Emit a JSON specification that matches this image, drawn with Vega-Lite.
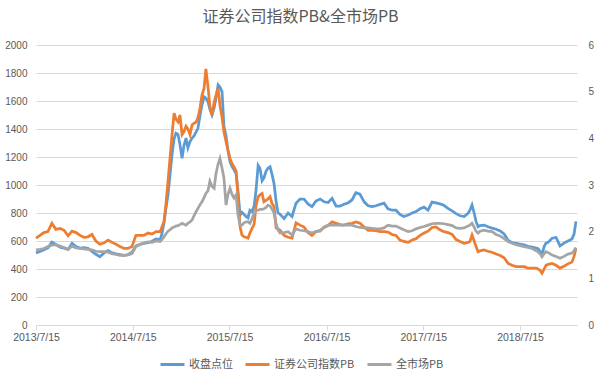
{
  "$schema": "https://vega.github.io/schema/vega-lite/v6.json",
  "width": 541,
  "height": 280,
  "autosize": {"type": "none"},
  "padding": {"left": 36, "top": 45, "right": 23, "bottom": 49},
  "background": "white",
  "title": {"text": "证券公司指数PB&全市场PB", "font": "Noto Sans CJK SC", "fontSize": 16, "fontWeight": "normal", "color": "#595959", "offset": 15, "dx": -6},
  "config": {"view": {"stroke": null}, "font": "Noto Sans CJK SC"},
  "data": {"values": [
    {"d":"2013/07/15","a":515,"b":1.86,"c":1.61},
    {"d":"2013/07/30","a":525,"b":1.92,"c":1.62},
    {"d":"2013/08/14","a":538,"b":1.98,"c":1.64},
    {"d":"2013/08/29","a":550,"b":2.0,"c":1.68},
    {"d":"2013/09/13","a":592,"b":2.18,"c":1.71},
    {"d":"2013/09/28","a":575,"b":2.05,"c":1.72},
    {"d":"2013/10/14","a":556,"b":2.07,"c":1.69},
    {"d":"2013/10/29","a":548,"b":2.03,"c":1.66},
    {"d":"2013/11/13","a":540,"b":1.91,"c":1.62},
    {"d":"2013/11/28","a":583,"b":2.01,"c":1.69},
    {"d":"2013/12/13","a":560,"b":1.98,"c":1.65},
    {"d":"2013/12/28","a":550,"b":1.92,"c":1.64},
    {"d":"2014/01/12","a":552,"b":1.88,"c":1.63},
    {"d":"2014/01/27","a":548,"b":1.89,"c":1.62},
    {"d":"2014/02/11","a":525,"b":1.94,"c":1.61},
    {"d":"2014/02/26","a":505,"b":1.8,"c":1.58},
    {"d":"2014/03/13","a":488,"b":1.73,"c":1.57},
    {"d":"2014/03/29","a":515,"b":1.76,"c":1.57},
    {"d":"2014/04/13","a":532,"b":1.82,"c":1.56},
    {"d":"2014/04/28","a":515,"b":1.77,"c":1.53},
    {"d":"2014/05/13","a":508,"b":1.73,"c":1.51},
    {"d":"2014/05/28","a":503,"b":1.68,"c":1.49},
    {"d":"2014/06/12","a":498,"b":1.64,"c":1.49},
    {"d":"2014/06/27","a":502,"b":1.64,"c":1.5},
    {"d":"2014/07/12","a":520,"b":1.68,"c":1.53},
    {"d":"2014/07/27","a":565,"b":1.92,"c":1.68},
    {"d":"2014/08/11","a":575,"b":1.92,"c":1.73},
    {"d":"2014/08/26","a":582,"b":1.92,"c":1.76},
    {"d":"2014/09/11","a":588,"b":1.97,"c":1.78},
    {"d":"2014/09/26","a":598,"b":1.95,"c":1.77},
    {"d":"2014/10/11","a":615,"b":2.0,"c":1.8},
    {"d":"2014/10/26","a":610,"b":2.0,"c":1.79},
    {"d":"2014/11/02","a":650,"b":2.1,"c":1.83},
    {"d":"2014/11/10","a":730,"b":2.22,"c":1.89},
    {"d":"2014/11/17","a":830,"b":2.58,"c":1.95},
    {"d":"2014/11/25","a":930,"b":3.08,"c":2.01},
    {"d":"2014/12/03","a":1080,"b":3.6,"c":2.04},
    {"d":"2014/12/10","a":1215,"b":4.07,"c":2.08},
    {"d":"2014/12/18","a":1330,"b":4.54,"c":2.1},
    {"d":"2014/12/25","a":1370,"b":4.41,"c":2.12},
    {"d":"2015/01/02","a":1360,"b":4.35,"c":2.13},
    {"d":"2015/01/09","a":1290,"b":4.5,"c":2.15},
    {"d":"2015/01/17","a":1190,"b":4.08,"c":2.18},
    {"d":"2015/01/24","a":1280,"b":4.14,"c":2.16},
    {"d":"2015/02/01","a":1335,"b":4.26,"c":2.14},
    {"d":"2015/02/08","a":1265,"b":4.2,"c":2.18},
    {"d":"2015/02/16","a":1310,"b":4.08,"c":2.21},
    {"d":"2015/02/24","a":1335,"b":4.29,"c":2.25},
    {"d":"2015/03/03","a":1350,"b":4.32,"c":2.34},
    {"d":"2015/03/11","a":1380,"b":4.35,"c":2.43},
    {"d":"2015/03/18","a":1405,"b":4.44,"c":2.5},
    {"d":"2015/03/26","a":1500,"b":4.65,"c":2.58},
    {"d":"2015/04/02","a":1570,"b":4.92,"c":2.64},
    {"d":"2015/04/10","a":1630,"b":5.07,"c":2.73},
    {"d":"2015/04/17","a":1620,"b":5.49,"c":2.82},
    {"d":"2015/04/25","a":1595,"b":5.1,"c":2.88},
    {"d":"2015/05/02","a":1540,"b":4.68,"c":3.08},
    {"d":"2015/05/10","a":1500,"b":4.5,"c":2.97},
    {"d":"2015/05/18","a":1550,"b":4.77,"c":2.93},
    {"d":"2015/05/25","a":1620,"b":4.92,"c":3.24},
    {"d":"2015/06/02","a":1715,"b":5.07,"c":3.45},
    {"d":"2015/06/09","a":1700,"b":4.71,"c":3.57},
    {"d":"2015/06/17","a":1665,"b":4.44,"c":3.36},
    {"d":"2015/06/24","a":1420,"b":4.14,"c":3.15},
    {"d":"2015/07/02","a":1350,"b":3.93,"c":2.57},
    {"d":"2015/07/09","a":1250,"b":3.75,"c":2.79},
    {"d":"2015/07/17","a":1165,"b":3.57,"c":2.93},
    {"d":"2015/07/25","a":1130,"b":3.45,"c":2.79},
    {"d":"2015/08/01","a":1110,"b":3.39,"c":2.72},
    {"d":"2015/08/09","a":1080,"b":3.3,"c":2.79},
    {"d":"2015/08/16","a":960,"b":2.76,"c":2.36},
    {"d":"2015/08/24","a":785,"b":2.1,"c":2.14},
    {"d":"2015/08/31","a":805,"b":1.93,"c":2.14},
    {"d":"2015/09/08","a":790,"b":1.89,"c":2.19},
    {"d":"2015/09/15","a":775,"b":1.88,"c":2.21},
    {"d":"2015/09/23","a":765,"b":1.86,"c":2.21},
    {"d":"2015/09/30","a":820,"b":1.97,"c":2.18},
    {"d":"2015/10/08","a":810,"b":2.07,"c":2.28},
    {"d":"2015/10/16","a":850,"b":2.16,"c":2.4},
    {"d":"2015/10/23","a":960,"b":2.55,"c":2.45},
    {"d":"2015/10/31","a":1140,"b":2.75,"c":2.46},
    {"d":"2015/11/07","a":1120,"b":2.79,"c":2.48},
    {"d":"2015/11/15","a":1030,"b":2.82,"c":2.48},
    {"d":"2015/11/22","a":1050,"b":2.64,"c":2.49},
    {"d":"2015/11/30","a":1100,"b":2.67,"c":2.52},
    {"d":"2015/12/07","a":1120,"b":2.7,"c":2.57},
    {"d":"2015/12/15","a":1130,"b":2.75,"c":2.55},
    {"d":"2015/12/22","a":1080,"b":2.61,"c":2.49},
    {"d":"2015/12/30","a":1010,"b":2.54,"c":2.4},
    {"d":"2016/01/07","a":880,"b":2.08,"c":2.16},
    {"d":"2016/01/14","a":800,"b":2.06,"c":2.04},
    {"d":"2016/01/22","a":790,"b":2.03,"c":1.97},
    {"d":"2016/02/06","a":760,"b":1.92,"c":1.98},
    {"d":"2016/02/21","a":800,"b":1.88,"c":2.0},
    {"d":"2016/03/07","a":775,"b":1.86,"c":1.93},
    {"d":"2016/03/22","a":870,"b":2.19,"c":2.06},
    {"d":"2016/04/06","a":900,"b":2.14,"c":2.03},
    {"d":"2016/04/21","a":900,"b":2.1,"c":2.02},
    {"d":"2016/05/06","a":865,"b":1.98,"c":2.0},
    {"d":"2016/05/21","a":845,"b":1.92,"c":1.97},
    {"d":"2016/06/05","a":885,"b":2.0,"c":2.0},
    {"d":"2016/06/21","a":900,"b":2.03,"c":2.01},
    {"d":"2016/07/06","a":880,"b":2.09,"c":2.1},
    {"d":"2016/07/21","a":875,"b":2.13,"c":2.14},
    {"d":"2016/08/05","a":905,"b":2.21,"c":2.14},
    {"d":"2016/08/20","a":850,"b":2.18,"c":2.14},
    {"d":"2016/09/04","a":850,"b":2.15,"c":2.14},
    {"d":"2016/09/19","a":862,"b":2.14,"c":2.14},
    {"d":"2016/10/04","a":872,"b":2.17,"c":2.14},
    {"d":"2016/10/19","a":893,"b":2.18,"c":2.14},
    {"d":"2016/11/03","a":945,"b":2.21,"c":2.11},
    {"d":"2016/11/18","a":935,"b":2.18,"c":2.09},
    {"d":"2016/12/04","a":880,"b":2.1,"c":2.08},
    {"d":"2016/12/19","a":852,"b":2.03,"c":2.08},
    {"d":"2017/01/03","a":845,"b":2.03,"c":2.07},
    {"d":"2017/01/18","a":852,"b":2.02,"c":2.06},
    {"d":"2017/02/02","a":862,"b":2.0,"c":2.06},
    {"d":"2017/02/17","a":870,"b":2.0,"c":2.08},
    {"d":"2017/03/04","a":830,"b":1.99,"c":2.14},
    {"d":"2017/03/19","a":820,"b":1.94,"c":2.12},
    {"d":"2017/04/03","a":820,"b":1.92,"c":2.12},
    {"d":"2017/04/18","a":790,"b":1.82,"c":2.08},
    {"d":"2017/05/03","a":775,"b":1.79,"c":2.04},
    {"d":"2017/05/19","a":785,"b":1.77,"c":2.0},
    {"d":"2017/06/03","a":800,"b":1.82,"c":2.02},
    {"d":"2017/06/18","a":810,"b":1.85,"c":2.06},
    {"d":"2017/07/03","a":830,"b":1.92,"c":2.09},
    {"d":"2017/07/18","a":842,"b":1.97,"c":2.11},
    {"d":"2017/08/02","a":821,"b":2.01,"c":2.14},
    {"d":"2017/08/17","a":878,"b":2.09,"c":2.17},
    {"d":"2017/09/01","a":872,"b":2.1,"c":2.18},
    {"d":"2017/09/16","a":865,"b":2.04,"c":2.18},
    {"d":"2017/10/01","a":855,"b":2.0,"c":2.17},
    {"d":"2017/10/16","a":833,"b":1.98,"c":2.15},
    {"d":"2017/11/01","a":815,"b":1.94,"c":2.13},
    {"d":"2017/11/16","a":795,"b":1.83,"c":2.08},
    {"d":"2017/12/01","a":780,"b":1.79,"c":2.07},
    {"d":"2017/12/16","a":775,"b":1.75,"c":2.08},
    {"d":"2017/12/31","a":798,"b":1.77,"c":2.12},
    {"d":"2018/01/07","a":820,"b":1.79,"c":2.14},
    {"d":"2018/01/15","a":858,"b":1.93,"c":2.18},
    {"d":"2018/01/23","a":800,"b":1.8,"c":2.1},
    {"d":"2018/01/30","a":740,"b":1.68,"c":2.01},
    {"d":"2018/02/07","a":702,"b":1.57,"c":1.97},
    {"d":"2018/02/14","a":710,"b":1.59,"c":2.01},
    {"d":"2018/03/01","a":714,"b":1.61,"c":2.03},
    {"d":"2018/03/16","a":702,"b":1.58,"c":2.01},
    {"d":"2018/03/31","a":692,"b":1.56,"c":2.0},
    {"d":"2018/04/16","a":684,"b":1.52,"c":1.94},
    {"d":"2018/05/01","a":672,"b":1.49,"c":1.91},
    {"d":"2018/05/16","a":650,"b":1.44,"c":1.85},
    {"d":"2018/05/31","a":605,"b":1.32,"c":1.79},
    {"d":"2018/06/15","a":588,"b":1.28,"c":1.75},
    {"d":"2018/06/30","a":583,"b":1.25,"c":1.72},
    {"d":"2018/07/15","a":578,"b":1.25,"c":1.7},
    {"d":"2018/07/30","a":572,"b":1.25,"c":1.68},
    {"d":"2018/08/14","a":562,"b":1.22,"c":1.66},
    {"d":"2018/08/29","a":556,"b":1.22,"c":1.64},
    {"d":"2018/09/14","a":550,"b":1.22,"c":1.59},
    {"d":"2018/09/21","a":545,"b":1.2,"c":1.57},
    {"d":"2018/09/29","a":525,"b":1.17,"c":1.52},
    {"d":"2018/10/06","a":505,"b":1.11,"c":1.46},
    {"d":"2018/10/14","a":560,"b":1.2,"c":1.53},
    {"d":"2018/10/21","a":585,"b":1.28,"c":1.57},
    {"d":"2018/10/29","a":590,"b":1.3,"c":1.55},
    {"d":"2018/11/13","a":620,"b":1.32,"c":1.5},
    {"d":"2018/11/28","a":625,"b":1.28,"c":1.47},
    {"d":"2018/12/13","a":565,"b":1.22,"c":1.43},
    {"d":"2018/12/28","a":585,"b":1.26,"c":1.47},
    {"d":"2019/01/12","a":600,"b":1.31,"c":1.52},
    {"d":"2019/01/27","a":615,"b":1.35,"c":1.54},
    {"d":"2019/02/04","a":650,"b":1.47,"c":1.59},
    {"d":"2019/02/11","a":740,"b":1.64,"c":1.66}
  ]},
  "encoding": {
    "x": {
      "field": "d", "type": "temporal",
      "scale": {"domain": [{"year": 2013, "month": 7, "date": 15}, {"year": 2019, "month": 2, "date": 15}]},
      "axis": {
        "title": null, "grid": false,
        "values": [
          {"year": 2013, "month": 7, "date": 15},
          {"year": 2014, "month": 7, "date": 15},
          {"year": 2015, "month": 7, "date": 15},
          {"year": 2016, "month": 7, "date": 15},
          {"year": 2017, "month": 7, "date": 15},
          {"year": 2018, "month": 7, "date": 15}
        ],
        "format": "%Y/%-m/%-d",
        "labelFont": "Liberation Sans", "labelFontSize": 10.5, "labelColor": "#595959",
        "domainColor": "#d9d9d9", "tickColor": "#d9d9d9", "tickSize": 5, "labelPadding": 2,
        "labelFlush": false, "labelOverlap": false
      }
    }
  },
  "layer": [
    {
      "mark": {"type": "line", "strokeWidth": 2.75, "interpolate": "linear"},
      "encoding": {
        "y": {
          "field": "a", "type": "quantitative",
          "scale": {"domain": [0, 2000], "nice": false},
          "axis": {
            "orient": "left", "title": null, "values": [0, 200, 400, 600, 800, 1000, 1200, 1400, 1600, 1800, 2000],
            "format": "d", "grid": true, "gridColor": "#d9d9d9", "domain": false, "ticks": false,
            "labelPadding": 9, "labelFont": "Liberation Sans", "labelFontSize": 10, "labelColor": "#595959"
          }
        },
        "color": {
          "datum": "收盘点位", "type": "nominal",
          "scale": {"domain": ["收盘点位", "证券公司指数PB", "全市场PB"], "range": ["#5B9BD5", "#ED7D31", "#A5A5A5"]},
          "legend": {
            "title": null, "orient": "none", "legendX": 123, "legendY": 306, "direction": "horizontal",
            "gridAlign": "none",
            "symbolType": "stroke", "symbolSize": 576, "symbolStrokeWidth": 3,
            "labelFont": "Noto Sans CJK SC", "labelFontSize": 11, "labelColor": "#595959",
            "labelOffset": 3, "columnPadding": 6
          }
        }
      }
    },
    {
      "layer": [
        {
          "mark": {"type": "line", "strokeWidth": 2.75, "interpolate": "linear"},
          "encoding": {
            "y": {
              "field": "b", "type": "quantitative",
              "scale": {"domain": [0, 6], "nice": false},
              "axis": {
                "orient": "right", "title": null, "values": [0, 1, 2, 3, 4, 5, 6],
                "grid": false, "domain": false, "ticks": false,
                "labelPadding": 11, "labelFont": "Liberation Sans", "labelFontSize": 10, "labelColor": "#595959"
              }
            },
            "color": {"datum": "证券公司指数PB", "type": "nominal"}
          }
        },
        {
          "mark": {"type": "line", "strokeWidth": 2.75, "interpolate": "linear"},
          "encoding": {
            "y": {"field": "c", "type": "quantitative", "scale": {"domain": [0, 6], "nice": false}},
            "color": {"datum": "全市场PB", "type": "nominal"}
          }
        }
      ]
    }
  ],
  "resolve": {"scale": {"y": "independent"}}
}
